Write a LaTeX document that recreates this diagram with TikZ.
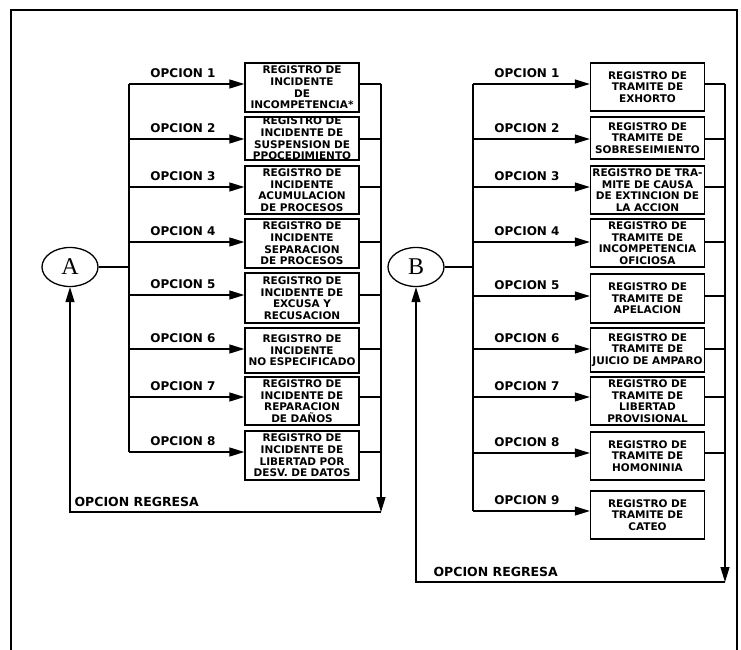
\documentclass[tikz,border=0pt]{standalone}
\usepackage{fontspec}
\setmainfont{DejaVu Sans}
\newfontfamily\letterfont{Liberation Serif}
\usetikzlibrary{arrows.meta,shapes.geometric}
\begin{document}
\begin{tikzpicture}[x=1pt,y=-1pt, line width=1.2pt,
  box/.style={draw, line width=1.3pt, minimum width=114pt, text width=113pt, align=center, inner sep=0pt,
    font=\fontsize{10.5}{11.6}\selectfont\bfseries},
  lbl/.style={font=\fontsize{12}{13}\selectfont\bfseries, inner sep=0pt},
  regl/.style={font=\fontsize{12.5}{13}\selectfont\bfseries, inner sep=0pt, anchor=west},
  circ/.style={draw, ellipse, line width=1.3pt, minimum width=56pt, minimum height=39pt, inner sep=0pt,
    font=\fontsize{24}{24}\selectfont\letterfont},
  arr/.style={-{Triangle[length=15pt,width=9pt]}}]
\useasboundingbox (0,0) rectangle (741,650);
% outer frame
\draw (11,650) -- (11,10) -- (737,10) -- (737,650);

% ---------------- left part ----------------
\node[circ] (A) at (70,267) {A};
\foreach \i/\y/\c/\h/\t in {
  1/84/87.5/49/{REGISTRO DE\\INCIDENTE\\DE\\INCOMPETENCIA*},
  2/139/138.5/43/{REGISTRO DE\\INCIDENTE DE\\SUSPENSION DE\\PPOCEDIMIENTO},
  3/187/190/48/{REGISTRO DE\\INCIDENTE\\ACUMULACION\\DE PROCESOS},
  4/242/243.5/49/{REGISTRO DE\\INCIDENTE\\SEPARACION\\DE PROCESOS},
  5/295/298/50/{REGISTRO DE\\INCIDENTE DE\\EXCUSA Y\\RECUSACION},
  6/349/350.5/45/{REGISTRO DE\\INCIDENTE\\NO ESPECIFICADO},
  7/397/401/48/{REGISTRO DE\\INCIDENTE DE\\REPARACION\\DE DAÑOS},
  8/452/455.5/49/{REGISTRO DE\\INCIDENTE DE\\LIBERTAD POR\\DESV. DE DATOS}} {
  \node[box, minimum height=\h pt] (Lb\i) at (302,\c) {\t};
  \coordinate (La\i) at (129,\y);
  \coordinate (Lr\i) at (381,\y);
  \node[lbl] (Lo\i) at (183,\y-11) {OPCION \i};
  \draw[arr] (La\i) -- (La\i -| Lb\i.west);
  \draw (Lb\i.east |- Lr\i) -- (Lr\i);
}
\draw (La1) -- (La8);
\draw (A.east) -- (A.east -| La1);
\coordinate (LrB) at (381,512);
\coordinate (LlB) at (70,512);
\draw[arr] (Lr1) -- (LrB);
\draw[arr] (LrB) -- (LlB) -- (A.south);
\node[regl] (Lreg) at (74,502) {OPCION REGRESA};

% ---------------- right part ----------------
\node[circ] (B) at (416,267) {B};
\foreach \i/\y/\c/\h/\t in {
  1/84/87/48/{REGISTRO DE\\TRAMITE DE\\EXHORTO},
  2/139/138/42/{REGISTRO DE\\TRAMITE DE\\SOBRESEIMIENTO},
  3/187/190/48/{REGISTRO DE TRA-\\MITE DE CAUSA\\DE EXTINCION DE\\LA ACCION},
  4/242/243/48/{REGISTRO DE\\TRAMITE DE\\INCOMPETENCIA\\OFICIOSA},
  5/296/298.5/49/{REGISTRO DE\\TRAMITE DE\\APELACION},
  6/349/350/44/{REGISTRO DE\\TRAMITE DE\\JUICIO DE AMPARO},
  7/397/401/48/{REGISTRO DE\\TRAMITE DE\\LIBERTAD\\PROVISIONAL},
  8/453/456/48/{REGISTRO DE\\TRAMITE DE\\HOMONINIA},
  9/511/515/48/{REGISTRO DE\\TRAMITE DE\\CATEO}} {
  \node[box, minimum height=\h pt] (Rb\i) at (647.5,\c) {\t};
  \coordinate (Ra\i) at (473,\y);
  \coordinate (Rr\i) at (725,\y);
  \node[lbl] (Ro\i) at (527,\y-11) {OPCION \i};
  \draw[arr] (Ra\i) -- (Ra\i -| Rb\i.west);
}
\foreach \i in {1,...,8} {
  \draw (Rb\i.east |- Rr\i) -- (Rr\i);
}
\draw (Ra1) -- (Ra9);
\draw (B.east) -- (B.east -| Ra1);
\coordinate (RrB) at (725,582);
\coordinate (RlB) at (416,582);
\draw[arr] (Rr1) -- (RrB);
\draw[arr] (RrB) -- (RlB) -- (B.south);
\node[regl] (Rreg) at (433,572) {OPCION REGRESA};
\end{tikzpicture}
\end{document}
